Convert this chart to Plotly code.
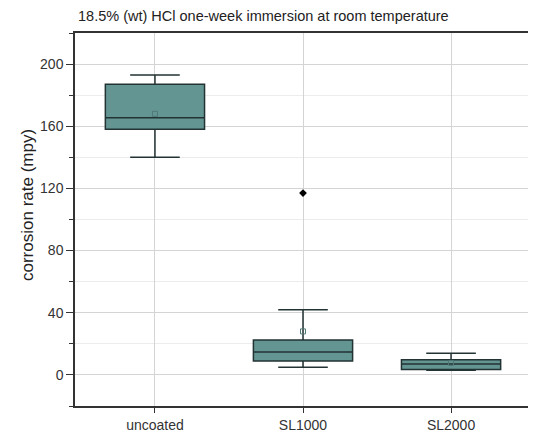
import plotly.graph_objects as go

categories = ["uncoated", "SL1000", "SL2000"]
q1 = [158, 9, 3.5]
median = [165.5, 14.7, 7]
q3 = [187, 22.4, 9.8]
lower = [140, 5, 3]
upper = [193, 42, 14]
means = [168, 28, 7.7]
outlier_x = ["SL1000"]
outlier_y = [117]

fill = "rgb(99,150,147)"
line = "rgb(35,50,50)"

W, H = 528, 429

fig = go.Figure()
fig.add_trace(go.Box(
    x=categories, q1=q1, median=median, q3=q3,
    lowerfence=lower, upperfence=upper,
    fillcolor=fill, line=dict(color=line, width=1.5),
    width=0.67, whiskerwidth=0.5, boxpoints=False, showlegend=False,
))
fig.add_trace(go.Scatter(
    x=categories, y=means, mode="markers", showlegend=False,
    marker=dict(symbol="square-open", size=5, color="rgb(80,120,118)", line=dict(width=1)),
))
fig.add_trace(go.Scatter(
    x=outlier_x, y=outlier_y, mode="markers", showlegend=False,
    marker=dict(symbol="diamond", size=6, color="black"),
))

fig.update_layout(
    width=W, height=H,
    margin=dict(l=67, r=3, t=25, b=31),
    paper_bgcolor="white", plot_bgcolor="white",
    font=dict(family="Liberation Sans, Arial", color="#333"),
    title=dict(text="18.5% (wt) HCl one-week immersion at room temperature",
               x=70/W, xanchor="left", y=1 - 3/H, yanchor="top", pad=dict(t=0),
               font=dict(size=14.5, color="#222")),
    annotations=[dict(text="corrosion rate (mpy)", textangle=-90,
                      xref="paper", yref="paper", x=0, y=(406 - 205) / 373,
                      xshift=-48, xanchor="center", yanchor="middle",
                      showarrow=False, font=dict(size=17, color="#222"))],
)
fig.update_xaxes(
    type="category", range=[-0.54, 2.54],
    showline=True, linecolor="#333", linewidth=1.5, mirror=True,
    showgrid=True, gridcolor="#d4d4d4", gridwidth=1,
    ticks="outside", ticklen=5, tickcolor="#333",
    tickfont=dict(size=14, color="#333"),
)
fig.update_yaxes(
    range=[-20, 220], tickvals=[0, 40, 80, 120, 160, 200],
    showline=True, linecolor="#333", linewidth=1.5, mirror=True,
    showgrid=True, gridcolor="#d4d4d4", gridwidth=1, zeroline=False,
    ticks="outside", ticklen=7, tickcolor="#333",
    tickfont=dict(size=14, color="#333"),
    minor=dict(tickvals=[-20, 20, 60, 100, 140, 180, 220], ticks="outside", ticklen=4,
               tickcolor="#333", showgrid=True, gridcolor="#ececec"),
)

fig.write_html("out.html")
